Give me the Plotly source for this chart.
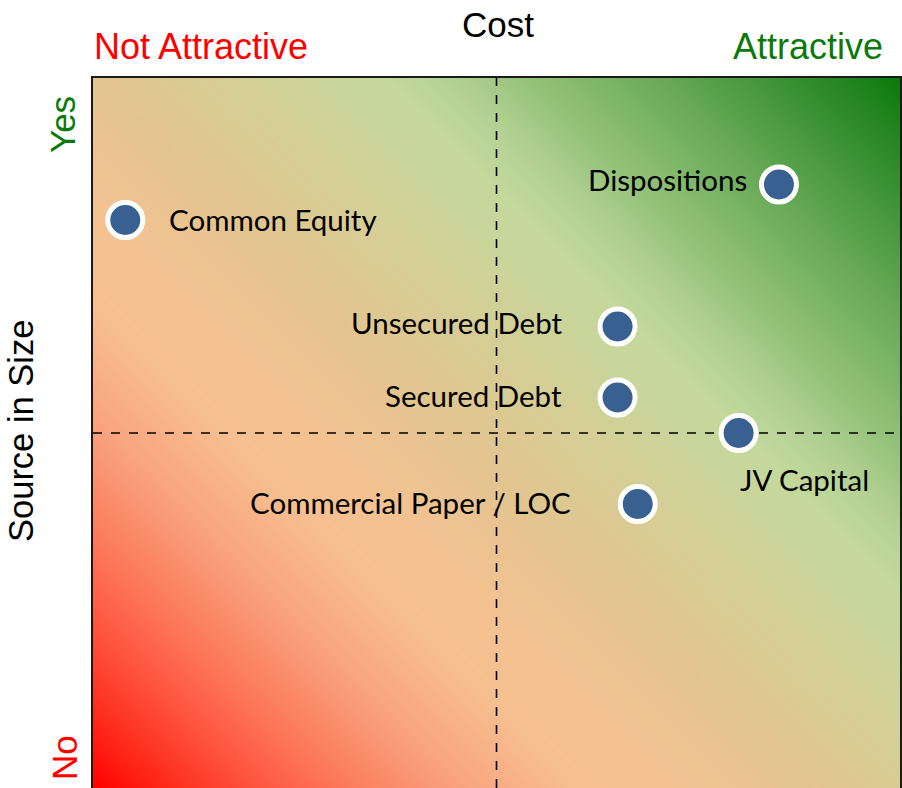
import numpy as np
import plotly.graph_objects as go

# ── Data ──────────────────────────────────────────────────────────────────────
sources = ["Common Equity", "Dispositions", "Unsecured Debt",
           "Secured Debt", "JV Capital", "Commercial Paper / LOC"]
cost = [0.4, 8.5, 6.5, 6.5, 8.0, 6.75]        # 0 = not attractive, 10 = attractive
size = [8.0, 8.5, 6.5, 5.5, 5.0, 4.0]         # 0 = no, 10 = yes

# label placement (anchor, x px offset, y px offset)
label_pos = [
    ("left", 42, 1),
    ("right", -30, 5),
    ("right", -53, 4),
    ("right", -54, 2),
    ("center", 66, -46),
    ("right", -65, 2),
]

# ── Style ─────────────────────────────────────────────────────────────────────
W, H = 902, 788
M = dict(l=93, r=2, t=78, b=0)
PW, PH = W - M["l"] - M["r"], H - M["t"] - M["b"]

GRAD = [
    [0.00, "#ff0000"],
    [0.06, "#ff3222"],
    [0.12, "#fe5d44"],
    [0.18, "#fb8262"],
    [0.24, "#f9a27d"],
    [0.32, "#f6bf8f"],
    [0.38, "#f4c291"],
    [0.47, "#e3c48f"],
    [0.54, "#d8cc94"],
    [0.60, "#cdd399"],
    [0.66, "#c4d89c"],
    [0.70, "#b5d294"],
    [0.75, "#96c37b"],
    [0.85, "#64a755"],
    [1.00, "#0c790c"],
]

HEAD = "Liberation Sans, Arial, sans-serif"
BODY = "Lato, 'Open Sans', sans-serif"

# background gradient grid (45° in screen space)
g = np.linspace(0, 10, 41)
gx, gy = np.meshgrid(g, g)
gz = (PW * gx / 10 + PH * gy / 10) / (PW + PH)

fig = go.Figure()
fig.add_trace(go.Heatmap(
    x=g, y=g, z=gz, zmin=0, zmax=1, colorscale=GRAD,
    zsmooth="best", showscale=False, hoverinfo="skip",
))

# quadrant dividers
for xs, ys in (([5, 5], [0, 10]), ([0, 10], [5, 5])):
    fig.add_trace(go.Scatter(
        x=xs, y=ys, mode="lines", hoverinfo="skip",
        line=dict(color="#000000", width=1.6, dash="dash"),
    ))

fig.add_trace(go.Scatter(
    x=cost, y=size, mode="markers", text=sources,
    marker=dict(size=35, color="#386192", line=dict(color="#ffffff", width=5)),
    hovertemplate="%{text}<extra></extra>",
))

for name, x, y, (anc, dx, dy) in zip(sources, cost, size, label_pos):
    fig.add_annotation(
        x=x, y=y, text=name, showarrow=False,
        xanchor=anc, yanchor="middle", xshift=dx, yshift=dy,
        font=dict(family=BODY, size=29.5, color="#000000"),
    )

# screen pixel -> paper coords
def py(pix):
    return (H - M["b"] - pix) / PH

def px(pix):
    return (pix - M["l"]) / PW

heads = [
    ("Cost", 498, 24, "#000000", 0, 35),
    ("Not Attractive", 201, 46, "#ff0000", 0, 36),
    ("Attractive", 808, 46, "#0a7a0a", 0, 36),
    ("Yes", 62, 125, "#0a7a0a", -90, 35),
    ("No", 64, 758, "#ff0000", -90, 35),
    ("Source in Size", 21, 431, "#000000", -90, 34.5),
]
for txt, hx, hy, col, rot, fs in heads:
    fig.add_annotation(
        xref="paper", yref="paper", x=px(hx), y=py(hy),
        text=txt, showarrow=False, textangle=rot,
        xanchor="center", yanchor="middle", borderpad=0,
        font=dict(family=HEAD, size=fs, color=col),
    )

fig.update_layout(
    width=W, height=H, margin=M,
    paper_bgcolor="#ffffff", plot_bgcolor="#ffffff",
    showlegend=False,
    xaxis=dict(range=[0, 10], showgrid=False, zeroline=False, showticklabels=False,
               ticks="", showline=True, mirror=True, linecolor="#1a1a1a", linewidth=2),
    yaxis=dict(range=[0, 10], showgrid=False, zeroline=False, showticklabels=False,
               ticks="", showline=True, mirror=True, linecolor="#1a1a1a", linewidth=2),
)

# drop the browser's default body margin so the figure fills the window
fig.write_html(
    "out.html",
    config={"displayModeBar": False},
    post_script="document.body.style.margin = '0';",
)
